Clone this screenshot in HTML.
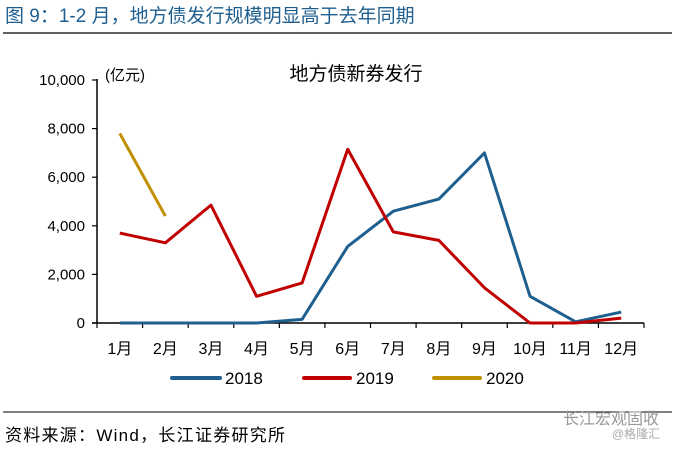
<!DOCTYPE html>
<html><head><meta charset="utf-8"><style>
body{margin:0;background:#fff;width:677px;height:446px;overflow:hidden;font-family:"Liberation Sans","Noto Sans CJK SC",sans-serif}
</style></head><body>
<svg width="677" height="446" xmlns="http://www.w3.org/2000/svg" font-family="Liberation Sans, Noto Sans CJK SC, sans-serif">
<text x="5" y="22" font-size="19" fill="#1f5f8f">图 9：1-2 月，地方债发行规模明显高于去年同期</text>
<line x1="3" y1="33" x2="672" y2="33" stroke="#000" stroke-width="1.2"/>
<text x="356" y="80" font-size="19" text-anchor="middle">地方债新券发行</text>
<text x="105" y="80" font-size="15">(亿元)</text>
<g id="axes"></g>
<g id="series"></g>
<g>
<line x1="172" y1="378" x2="220" y2="378" stroke="#1f5f8f" stroke-width="4" stroke-linecap="round"/>
<text x="225" y="384" font-size="17">2018</text>
<line x1="304" y1="378" x2="350" y2="378" stroke="#c00000" stroke-width="4" stroke-linecap="round"/>
<text x="356" y="384" font-size="17">2019</text>
<line x1="434" y1="378" x2="480" y2="378" stroke="#c09000" stroke-width="4" stroke-linecap="round"/>
<text x="486" y="384" font-size="17">2020</text>
</g>
<line x1="3" y1="412" x2="672" y2="412" stroke="#000" stroke-width="1"/>
<text x="5" y="441" font-size="17" textLength="280">资料来源：Wind，长江证券研究所</text>
<text x="563" y="424" font-size="16" fill="#999">长江宏观固收</text>
<text x="612" y="438" font-size="12" fill="#aaa">@格隆汇</text>
</svg>
<script>
const categories=["1月","2月","3月","4月","5月","6月","7月","8月","9月","10月","11月","12月"];
const yTicks=[0,2000,4000,6000,8000,10000];
const yTickLabels=["0","2,000","4,000","6,000","8,000","10,000"];
const s2018=[0,0,0,0,150,3150,4600,5100,7000,1100,50,450];
const s2019=[3700,3300,4850,1100,1650,7150,3750,3400,1450,0,0,200];
const s2020=[7800,4400];
const NS="http://www.w3.org/2000/svg";
const x0=97,x1=644,y0=323,yTop=80;
const bw=(x1-x0)/categories.length;
const X=i=>x0+bw*(i+0.5);
const Y=v=>y0-(v/10000)*(y0-yTop);
function mk(t,a,p){const e=document.createElementNS(NS,t);for(const k in a)e.setAttribute(k,a[k]);p.appendChild(e);return e;}
const ax=document.getElementById('axes');
let e=mk('line',{x1:x0,y1:yTop-1,x2:x0,y2:y0,stroke:'#000','stroke-width':1.5},ax);


e=mk('line',{x1:x0-5,y1:y0,x2:x1,y2:y0,stroke:'#000','stroke-width':1.5},ax);


yTicks.forEach((v,i)=>{
 const t=mk('line',{x1:x0-5,y1:Y(v),x2:x0,y2:Y(v),stroke:'#000','stroke-width':1.2},ax);
 
 
 const l=mk('text',{x:x0-12,y:Y(v)+5,'font-size':15,'text-anchor':'end'},ax);
 l.textContent=yTickLabels[i];
 
 
});
for(let i=0;i<=categories.length;i++){
 const t=mk('line',{x1:x0+bw*i,y1:y0,x2:x0+bw*i,y2:y0+5,stroke:'#000','stroke-width':1.2},ax);
 
 
}
categories.forEach((c,i)=>{
 const l=mk('text',{x:X(i),y:y0+31,'font-size':16,'text-anchor':'middle'},ax);
 l.textContent=c;
 
 
});
const sg=document.getElementById('series');
[[s2018,'#1f5f8f','line-2018'],[s2019,'#c00000','line-2019'],[s2020,'#c09000','line-2020']].forEach(([d,c,n])=>{
 const p=mk('polyline',{points:d.map((v,i)=>X(i)+','+Y(v)).join(' '),fill:'none',stroke:c,'stroke-width':3,'stroke-linejoin':'round'},sg);
 
 
});
</script>
</body></html>
